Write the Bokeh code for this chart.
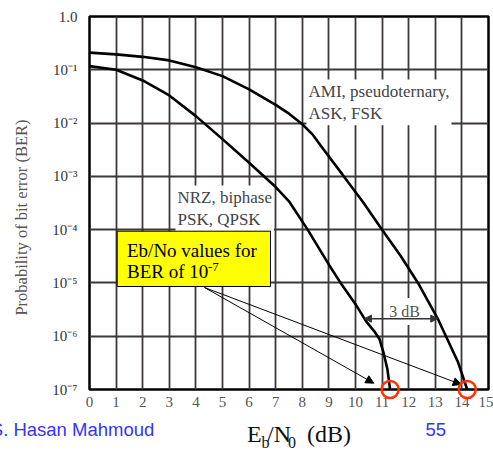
import numpy as np
from bokeh.plotting import figure
from bokeh.models import (FixedTicker, CustomJSTickFormatter, Label, BoxAnnotation,
                          Arrow, NormalHead)
from bokeh.core.properties import value
from bokeh.embed import file_html
from bokeh.resources import INLINE

# ---------------- data ----------------
ebno_nrz = [0, 1, 2, 3, 4, 5, 6, 7, 7.5, 8.2, 9.0, 9.5, 10.0, 10.4, 10.7, 10.9, 11.05, 11.2, 11.3]
ber_nrz = [1.17e-1, 1.0e-1, 6.3e-2, 3.3e-2, 1.35e-2, 5.0e-3, 1.8e-3, 6.3e-4, 3.4e-4,
           1.0e-4, 2.2e-5, 9.0e-6, 4.0e-6, 1.9e-6, 1.25e-6, 8.9e-7, 5.0e-7, 2.4e-7, 1.0e-7]

ebno_ami = [0, 1, 2, 3, 4, 5, 6, 7, 7.5, 8, 8.4, 8.8, 9.5, 10.3, 11.0, 11.7, 12.35, 13.1,
            13.4, 13.85, 14.2]
ber_ami = [2.1e-1, 1.95e-1, 1.75e-1, 1.5e-1, 1.12e-1, 7.6e-2, 4.3e-2, 2.2e-2, 1.5e-2,
           9.5e-3, 6.0e-3, 3.2e-3, 1.1e-3, 3.2e-4, 1.0e-4, 3.2e-5, 1.0e-5, 2.1e-6,
           1.0e-6, 3.3e-7, 1.0e-7]

x_ticks = list(range(0, 16))
y_ticks = [1e-7, 1e-6, 1e-5, 1e-4, 1e-3, 1e-2, 1e-1, 1.0]
y_tick_labels = ["10\u207b\u2077", "10\u207b\u2076", "10\u207b\u2075", "10\u207b\u2074",
                 "10\u207b\u00b3", "10\u207b\u00b2", "10\u207b\u00b9", "1.0"]

ber_target = 1e-7
ebno_at_target = [ebno_nrz[-1], ebno_ami[-1]]
gap_ber = 10 ** -5.67   # level of the "3 dB" marker

# ---------------- geometry helpers (picture pixels -> data) ----------------
FL, FR, FT, FB = 89.0, 488.0, 16.0, 389.0
W, H = 493, 451


def px(x):
    return (x - FL) * 15.0 / (FR - FL)


def py(y):
    return 10 ** (-7.0 * (y - FT) / (FB - FT))


SERIF = "Liberation Serif"
SANS = "Liberation Sans"
GRID = "#3d3739"

p = figure(width=W, height=H, x_range=(0, 15), y_range=(1e-7, 1.0),
           y_axis_type="log", output_backend="svg", toolbar_location=None,
           min_border_left=int(FL), min_border_right=int(W - FR), min_border_top=int(FT),
           min_border_bottom=int(H - FB), background_fill_color="white",
           border_fill_color="white")

p.outline_line_color = "black"
p.outline_line_width = 2.5

p.xgrid.ticker = FixedTicker(ticks=x_ticks)
p.ygrid.ticker = FixedTicker(ticks=y_ticks)
for g in (p.xgrid, p.ygrid):
    g.grid_line_color = GRID
    g.grid_line_width = 1.8
    g.grid_line_alpha = 1.0

p.xaxis.ticker = FixedTicker(ticks=x_ticks)
p.yaxis.ticker = FixedTicker(ticks=y_ticks)
p.yaxis.formatter = CustomJSTickFormatter(
    args=dict(yt=y_ticks, yl=y_tick_labels),
    code="""
    let best = 0, d = 1e9;
    for (let i = 0; i < yt.length; i++) {
        const e = Math.abs(Math.log10(yt[i]) - Math.log10(tick));
        if (e < d) { d = e; best = i; }
    }
    return yl[best];
""")
for ax in (p.xaxis, p.yaxis):
    ax.axis_line_color = None
    ax.major_tick_line_color = None
    ax.minor_tick_line_color = None
    ax.major_tick_out = 0
    ax.major_tick_in = 0
    ax.minor_tick_out = 0
    ax.minor_tick_in = 0
    ax.major_label_text_font = SERIF
    ax.major_label_text_font_size = "15px"
p.xaxis.major_label_text_color = "#555555"
p.yaxis.major_label_text_color = "#333333"
p.xaxis.major_label_standoff = 7
p.yaxis.major_label_standoff = 12

# ---- white-backed text labels (under the curves, over the grid) ----
p.add_layout(Label(x=px(306), y=py(79), text="AMI, pseudoternary,\nASK, FSK",
                   text_font=SERIF, text_font_size="17px", text_color="#444444",
                   text_align="left", text_baseline="top",
                   background_fill_color="white", padding=2, level="underlay"))
p.add_layout(Label(x=px(175), y=py(185), text="NRZ, biphase\nPSK, QPSK",
                   text_font=SERIF, text_font_size="17px", text_color="#444444",
                   text_align="left", text_baseline="top",
                   background_fill_color="white", padding=2, level="underlay"))
p.add_layout(Label(x=px(404), y=py(311), text="3 dB",
                   text_font=SERIF, text_font_size="16px", text_color="#555555",
                   text_align="center", text_baseline="middle",
                   background_fill_color="white", padding=5, level="underlay"))

# ---- curves ----
p.line(ebno_nrz, ber_nrz, line_color="black", line_width=2.6)
p.line(ebno_ami, ber_ami, line_color="black", line_width=2.6)

# ---- 3 dB double arrow between the curves ----
neg_gap = -np.log10(gap_ber)
xa = float(np.interp(neg_gap, -np.log10(ber_nrz), ebno_nrz))
xb = float(np.interp(neg_gap, -np.log10(ber_ami), ebno_ami))
p.add_layout(Arrow(x_start=xa, y_start=gap_ber, x_end=xb, y_end=gap_ber,
                   line_color="#333333", line_width=1.5,
                   start=NormalHead(size=7, fill_color="#333333", line_color="#333333"),
                   end=NormalHead(size=7, fill_color="#333333", line_color="#333333")))

# ---- yellow call-out ----
p.add_layout(BoxAnnotation(left=px(116.7), right=px(270), top=py(230.7), bottom=py(286),
                           fill_color="#ffff00", fill_alpha=1.0,
                           line_color="black", line_width=1, line_alpha=1.0))
p.add_layout(Label(x=px(126.5), y=py(250.4), text="Eb/No values for",
                   text_font=SERIF, text_font_size="19px", text_color="black",
                   text_baseline="middle"))
p.add_layout(Label(x=px(126.5), y=py(271), text="BER of 10",
                   text_font=SERIF, text_font_size="19px", text_color="black",
                   text_baseline="middle"))
p.add_layout(Label(x=px(207.5), y=py(266), text="-7",
                   text_font=SERIF, text_font_size="13px", text_color="black",
                   text_baseline="middle"))

tips = [(px(373.3), py(382.7)), (px(460.7), py(384))]
for tx, ty in tips:
    p.add_layout(Arrow(x_start=px(204), y_start=py(287), x_end=tx, y_end=ty,
                       line_color="black", line_width=1,
                       end=NormalHead(size=8, fill_color="black", line_color="black",
                                      line_width=1)))

# ---- red rings at BER = 1e-7 ----
p.scatter(ebno_at_target, [ber_target] * len(ebno_at_target), marker="circle",
          size=17, fill_color=None, line_color="#ff3300", line_width=2.5,
          level="overlay")

# ---- axis titles and footer (glyphs at overlay level: not clipped to frame) ----
p.text(x=[px(20.5)], y=[py(217)], text=["Probability of bit error (BER)"],
       angle=np.pi / 2, text_font=value(SERIF), text_font_size=value("16.5px"),
       text_color="#555555", text_align="center", text_baseline="middle",
       level="overlay")

xl_text = ["E", "b", "/N", "0", "(dB)"]
xl_x = [246.5, 261.0, 266.5, 287.5, 306.5]
xl_y = [433, 441.5, 433, 441.5, 433]
xl_fs = ["24px", "16px", "24px", "16px", "24px"]
p.text(x=[px(v) for v in xl_x], y=[py(v) for v in xl_y], text=xl_text,
       text_font=value(SERIF), text_font_size=xl_fs, text_color="#111111",
       text_align="left", text_baseline="middle", level="overlay")

p.text(x=[px(-9.7), px(425)], y=[py(429.3), py(429.3)], text=["S. Hasan Mahmoud", "55"],
       text_font=value(SANS), text_font_size=value("18.5px"), text_color="#3333ff",
       text_align="left", text_baseline="middle", level="overlay")

open("out.html", "w").write(file_html(p, INLINE))
